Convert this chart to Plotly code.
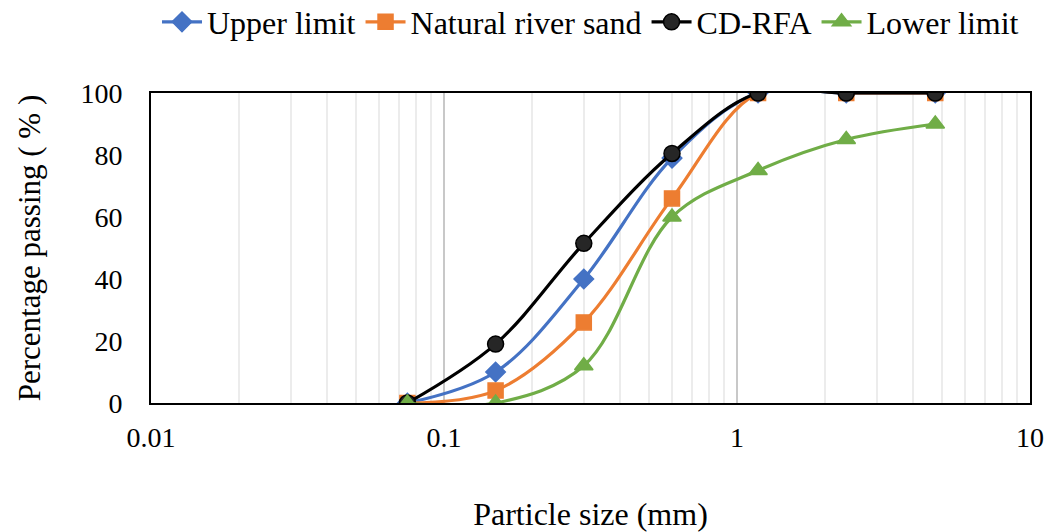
import plotly.graph_objects as go

sizes = [0.075, 0.15, 0.3, 0.6, 1.18, 2.36, 4.75]
upper_limit = [0, 10, 40, 79, 100, 100, 100]
natural_sand = [0, 4, 26, 66, 100, 100, 100]
cd_rfa = [0, 19, 51.5, 80.5, 100, 100, 100]
lower_limit = [0, 0, 12, 60, 75, 85, 90]

x_tickvals = [0.01, 0.1, 1, 10]
x_ticktext = ["0.01", "0.1", "1", "10"]
y_tickvals = [0, 20, 40, 60, 80, 100]

FONT = "Liberation Serif"

fig = go.Figure()
series = [
    ("Upper limit", upper_limit, "#4472C4", "diamond", 15),
    ("Natural river sand", natural_sand, "#ED7D31", "square", 15),
    ("CD-RFA", cd_rfa, "#000000", "circle", 16),
    ("Lower limit", lower_limit, "#70AD47", "triangle-up", 16),
]
for name, vals, col, sym, sz in series:
    fill = "#262626" if name == "CD-RFA" else col
    fig.add_trace(go.Scatter(
        x=sizes, y=vals, name=name, mode="lines+markers",
        line=dict(color=col, width=3.2, shape="spline", smoothing=1.0),
        marker=dict(symbol=sym, size=sz, color=fill,
                    line=dict(color=col, width=1.5)),
    ))

minor_vals = []
for d in [0.01, 0.1, 1]:
    for k in range(2, 10):
        minor_vals.append(d * k)

fig.update_layout(
    width=1050, height=532,
    paper_bgcolor="white", plot_bgcolor="white",
    margin=dict(l=151, r=20, t=93, b=129, autoexpand=False),
    font=dict(family=FONT, size=28, color="black"),
    legend=dict(orientation="h", x=0.5, xanchor="center",
                y=0.9586, yref="container", yanchor="middle",
                font=dict(size=32), itemwidth=40, tracegroupgap=0,
                bgcolor="rgba(0,0,0,0)"),
    xaxis=dict(
        type="log", range=[-2, 1], automargin=False,
        tickvals=x_tickvals, ticktext=x_ticktext,
        showgrid=True, gridcolor="#c8c8c8", gridwidth=1.5,
        minor=dict(tickvals=minor_vals, showgrid=True,
                   gridcolor="#ececec", gridwidth=1.5),
        showline=True, linecolor="black", linewidth=2, mirror=True,
        ticks="", ticklabelstandoff=8,
        title=dict(text="Particle size (mm)", standoff=71,
                   font=dict(size=32)),
        zeroline=False,
    ),
    yaxis=dict(
        range=[0, 100], tickvals=y_tickvals, automargin=False,
        showgrid=False,
        showline=True, linecolor="black", linewidth=2, mirror=True,
        ticks="", ticklabelstandoff=21,
        title=dict(text="Percentage passing ( % )", standoff=31,
                   font=dict(size=31)),
        zeroline=False,
    ),
)

fig.write_html("out.html", config={"displayModeBar": False},
               post_script="document.body.style.margin='0';")
